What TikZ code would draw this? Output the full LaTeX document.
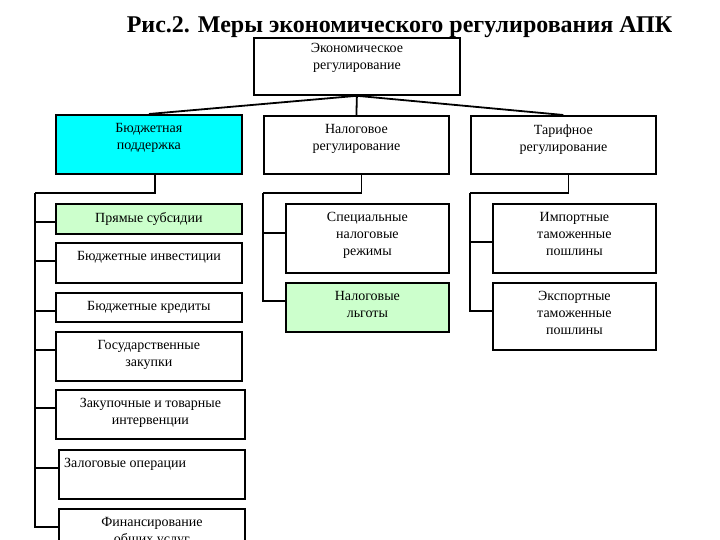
\documentclass[tikz,border=0pt]{standalone}
\usepackage{fontspec}
\setmainfont{Liberation Serif}
\usetikzlibrary{positioning}

\definecolor{budgetcyan}{RGB}{0,255,255}
\definecolor{paleGreen}{RGB}{204,255,204}

\begin{document}
\begin{tikzpicture}[
  x=1pt, y=-1pt,
  box/.style={draw, line width=1.8pt, anchor=north west, inner sep=0pt},
  txt/.style={anchor=north, align=center, inner sep=0pt, yshift=-9.5pt,
    font=\fontsize{14}{16.8}\selectfont},
  link/.style={line width=1.8pt},
  title/.style={anchor=base, font=\bfseries\fontsize{24}{28}\selectfont}
]
\clip (0,0) rectangle (720,540);
\fill[white] (0,0) rectangle (720,540);

% =========================
% Top level
% =========================
\node[box, minimum width=206, minimum height=57,
  label={[txt, yshift=3pt]north:Экономическое\\регулирование}] (root) at (253,37) {};

\node[box, fill=budgetcyan, minimum width=186, minimum height=59,
  label={[txt]north:Бюджетная\\поддержка}] (budget) at (55,114) {};
\node[box, minimum width=185, minimum height=58,
  label={[txt]north:Налоговое\\регулирование}] (tax) at (263,115) {};
\node[box, minimum width=185, minimum height=58,
  label={[txt]north:Тарифное\\регулирование}] (tariff) at (470,115) {};

\foreach \c in {budget, tax, tariff}
  \draw[link] (root.south) -- (\c.north);

% title (over the root box)
\node[title] (title) at (399.5,33) {Рис.2. Меры экономического регулирования АПК};

% =========================
% Budget support
% =========================
\node[box, fill=paleGreen, minimum width=186, minimum height=30,
  label={[txt]north:Прямые субсидии}] (subsid) at (55,203) {};
\node[box, minimum width=186, minimum height=40,
  label={[txt]north:Бюджетные инвестиции}] (invest) at (55,242) {};
\node[box, minimum width=186, minimum height=29,
  label={[txt]north:Бюджетные кредиты}] (credit) at (55,292) {};
\node[box, minimum width=186, minimum height=49,
  label={[txt]north:Государственные\\закупки}] (procure) at (55,331) {};
\node[box, minimum width=189, minimum height=49,
  label={[txt]north:Закупочные и товарные\\интервенции}] (interv) at (55,389) {};
\node[box, minimum width=186, minimum height=49,
  label={[txt, anchor=north west, xshift=6pt]north west:Залоговые операции}] (pledge) at (58,449) {};
\node[box, minimum width=186, minimum height=50,
  label={[txt]north:Финансирование\\общих услуг}] (finance) at (58,508) {};

\coordinate (budgetbus) at (35,193);
\draw[link] ([xshift=6pt]budget.south) |- (budgetbus);
\foreach \c in {subsid, invest, credit, procure, interv, pledge, finance}
  \draw[link] (budgetbus) |- ([yshift=-19pt]\c.north west);

% =========================
% Tax regulation
% =========================
\node[box, minimum width=163, minimum height=69,
  label={[txt]north:Специальные\\налоговые\\режимы}] (special) at (285,203) {};
\node[box, fill=paleGreen, minimum width=163, minimum height=49,
  label={[txt]north:Налоговые\\льготы}] (benefits) at (285,282) {};

\coordinate (taxbus) at (263,193);
\draw[link] ([xshift=5pt]tax.south) |- (taxbus);
\foreach \c/\d in {special/30, benefits/19}
  \draw[link] (taxbus) |- ([yshift=-\d pt]\c.north west);

% =========================
% Tariff regulation
% =========================
\node[box, minimum width=163, minimum height=69,
  label={[txt]north:Импортные\\таможенные\\пошлины}] (import) at (492,203) {};
\node[box, minimum width=163, minimum height=67,
  label={[txt]north:Экспортные\\таможенные\\пошлины}] (export) at (492,282) {};

\coordinate (tariffbus) at (470,193);
\draw[link] ([xshift=5pt]tariff.south) |- (tariffbus);
\foreach \c/\d in {import/39, export/29}
  \draw[link] (tariffbus) |- ([yshift=-\d pt]\c.north west);

\end{tikzpicture}
\end{document}
